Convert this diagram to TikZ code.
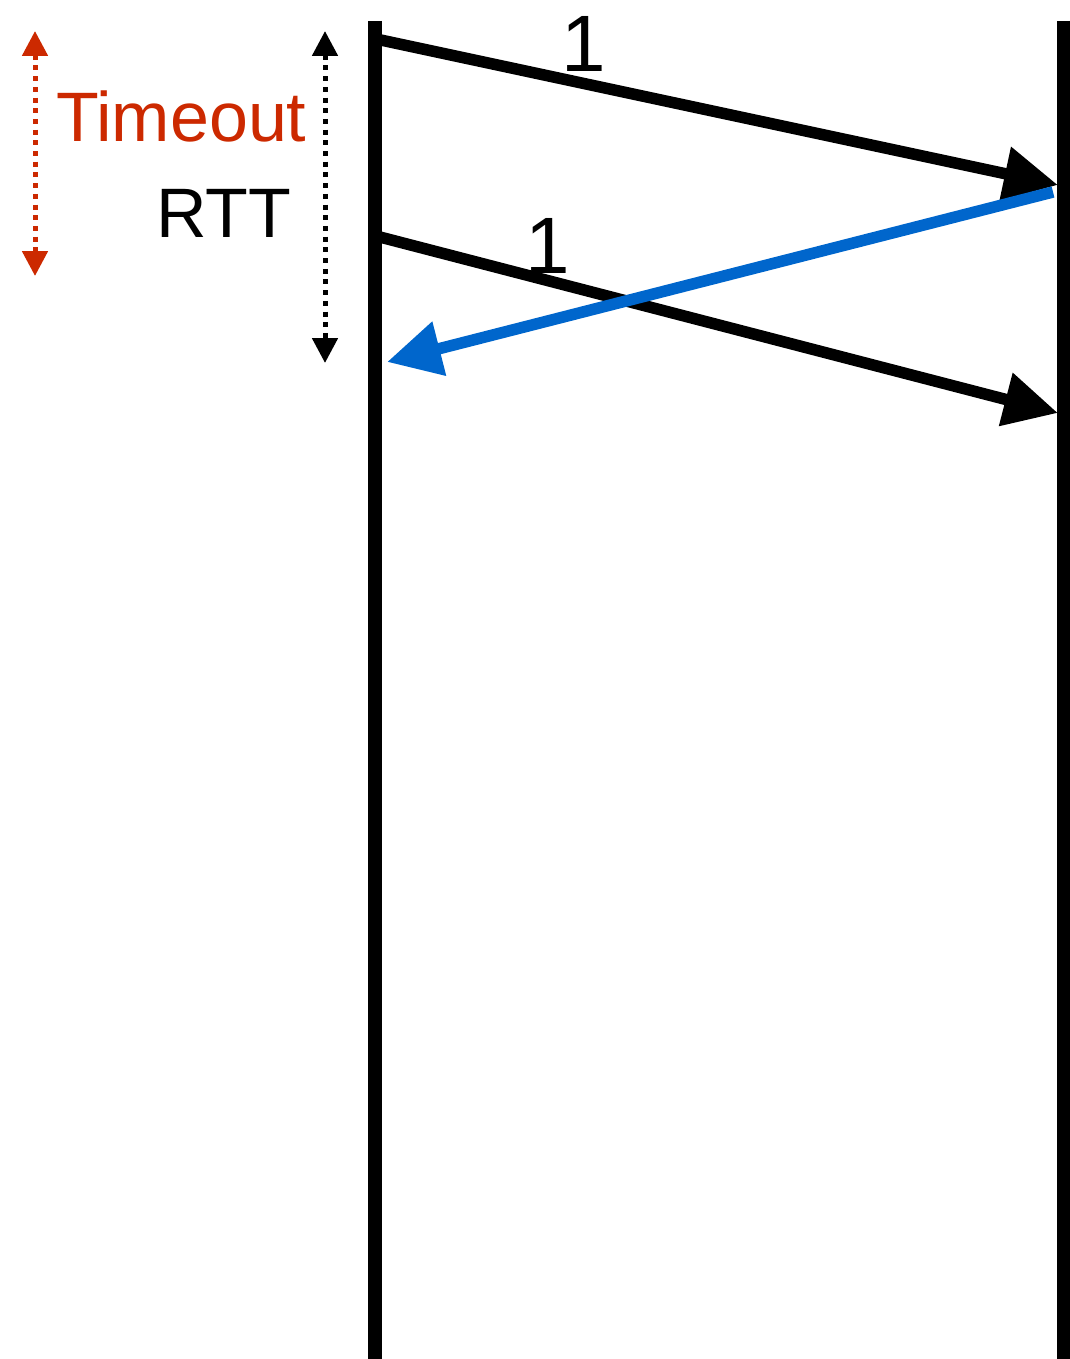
\documentclass[tikz,border=0pt]{standalone}
\usepackage{fontspec}
\setmainfont{Liberation Sans}
\usetikzlibrary{arrows.meta}
\definecolor{toutred}{RGB}{204,41,0}
\definecolor{ackblue}{RGB}{0,102,204}
\begin{document}
\begin{tikzpicture}[x=1pt,y=-1pt,
  timeline/.style={line width=13.5pt,black},
  msg/.style={line width=11.5pt,-{Triangle[length=54pt,width=52pt]}},
  ack/.style={line width=11.5pt,ackblue,-{Triangle[length=54pt,width=53pt]}},
  span/.style={line width=5pt,dash pattern=on 5pt off 5.7pt,{Triangle[length=25pt,width=25pt]}-{Triangle[length=25pt,width=25pt]}},
  lbl/.style={inner sep=0pt,font=\fontsize{70}{84}\selectfont},
  seq/.style={inner sep=0pt,anchor=base,font=\fontsize{80}{96}\selectfont}]
\useasboundingbox (0,0) rectangle (1070,1359);
% timelines
\coordinate (Ltop) at (375,21);
\coordinate (Lbot) at (375,1359);
\coordinate (Rtop) at (1063.5,21);
\coordinate (Rbot) at (1063.5,1359);
\draw[timeline] (Ltop) -- (Lbot);
\draw[timeline] (Rtop) -- (Rbot);
% messages
\coordinate (s1) at (376,39);
\coordinate (r1) at (1058,185);
\coordinate (s2) at (376,236);
\coordinate (r2) at (1058,413);
\coordinate (a1) at (1053,192);
\coordinate (a2) at (387,362);
\draw[msg] (s1) -- (r1);
\draw[msg] (s2) -- (r2);
\draw[ack] (a1) -- (a2);
\node[seq] (n1) at (584,72) {1};
\node[seq] (n2) at (548,273) {1};
% spans
\coordinate (t1) at (35,31);
\coordinate (t2) at (35,276);
\coordinate (q1) at (325,31);
\coordinate (q2) at (325,363);
\draw[span,toutred] (t1) -- (t2);
\draw[span,black] (q1) -- (q2);
\node[lbl,anchor=base west,text=toutred] (tout) at (56,142) {Timeout};
\node[lbl,anchor=base west] (rtt) at (156,237) {RTT};
\end{tikzpicture}
\end{document}
